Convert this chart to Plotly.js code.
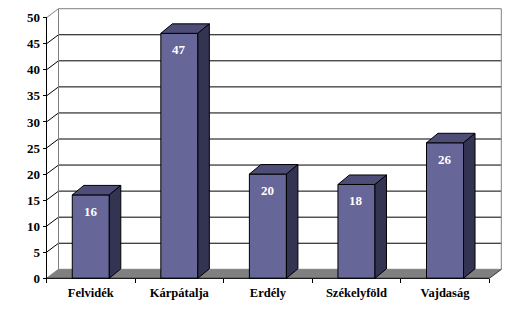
<!DOCTYPE html>
<html>
<head>
<meta charset="utf-8">
<script src="https://cdn.plot.ly/plotly-3.0.1.min.js"></script>
<style>html,body{margin:0;padding:0;background:#fff;}#chart{width:523px;height:311px;}</style>
</head>
<body>
<div id="chart"></div>
<script>
const categories = ['Felvidék', 'Kárpátalja', 'Erdély', 'Székelyföld', 'Vajdaság'];
const values = [16, 47, 20, 18, 26];
const yTickVals = [0, 5, 10, 15, 20, 25, 30, 35, 40, 45, 50];
const yTickText = ['0', '5', '10', '15', '20', '25', '30', '35', '40', '45', '50'];

// geometry (pixel scale used only to convert 3D depth offsets into axis units)
const W = 523, H = 311;
const ML = 44, MR = 19, MT = 6, MB = 30;
const xRange = [-0.5282, 4.666];
const yRange = [-0.518, 52.245];
const pxX = (W - ML - MR) / (xRange[1] - xRange[0]);
const pxY = (H - MT - MB) / (yRange[1] - yRange[0]);
const dxW = 12 / pxX, dyW = 9 / pxY;      // wall depth
const dxB = 11.5 / pxX, dyB = 9.5 / pxY;  // bar depth
const barW = 0.418;
const x0 = -0.5, x1 = categories.length - 0.5, yMax = 50;

const FRONT = '#666699', TOP = '#4d4d78', SIDE = '#333352', GRAY = '#808080';
const FONT = 'Liberation Serif';

function path(pts) {
  return 'M' + pts.map(p => p[0] + ',' + p[1]).join(' L') + ' Z';
}
function line(xa, ya, xb, yb, color, layer) {
  return {type: 'line', xref: 'x', yref: 'y', x0: xa, y0: ya, x1: xb, y1: yb,
          line: {color: color, width: 1}, layer: layer || 'below'};
}

const shapes = [];
// floor
shapes.push({type: 'path', xref: 'x', yref: 'y', layer: 'below',
  path: path([[x0, 0], [x1, 0], [x1 + dxW, dyW], [x0 + dxW, dyW]]),
  fillcolor: GRAY, line: {color: GRAY, width: 1}});
// back wall gridlines and side diagonals
yTickVals.forEach(v => {
  if (v === 0) return;
  const c = v === yMax ? GRAY : '#000000';
  shapes.push(line(x0, v, x0 + dxW, v + dyW, c));
  shapes.push(line(x0 + dxW, v + dyW, x1 + dxW, v + dyW, c));
});
// wall borders
shapes.push(line(x0 + dxW, dyW, x0 + dxW, yMax + dyW, GRAY));
shapes.push(line(x1 + dxW, dyW, x1 + dxW, yMax + dyW, GRAY));
shapes.push(line(x1, 0, x1 + dxW, dyW, '#404040'));

// bar top and side faces
values.forEach((v, i) => {
  const l = i - barW / 2, r = i + barW / 2;
  shapes.push({type: 'path', xref: 'x', yref: 'y', layer: 'above',
    path: path([[l, v], [r, v], [r + dxB, v + dyB], [l + dxB, v + dyB]]),
    fillcolor: TOP, line: {color: '#000000', width: 1}});
  shapes.push({type: 'path', xref: 'x', yref: 'y', layer: 'above',
    path: path([[r, 0], [r, v], [r + dxB, v + dyB], [r + dxB, dyB]]),
    fillcolor: SIDE, line: {color: '#000000', width: 1}});
});
// front axes lines
shapes.push(line(x0, 0, x0, yMax, '#000000', 'above'));
shapes.push(line(x0, 0, x1, 0, '#000000', 'above'));

const annotations = values.map((v, i) => ({
  x: i, y: v, xref: 'x', yref: 'y', yshift: -16.5, showarrow: false,
  text: '<b>' + String(v) + '</b>', yanchor: 'middle', xanchor: 'center',
  font: {family: FONT, size: 13, color: '#ffffff'}
}));

const trace = {
  type: 'bar', x: categories.map((c, i) => i), y: values, width: barW,
  marker: {color: FRONT, line: {color: '#000000', width: 1}},
  hoverinfo: 'skip'
};

const layout = {
  width: W, height: H,
  margin: {l: ML, r: MR, t: MT, b: MB, pad: 0},
  paper_bgcolor: '#ffffff', plot_bgcolor: '#ffffff',
  showlegend: false,
  font: {family: FONT},
  xaxis: {
    range: xRange, showgrid: false, zeroline: false, showline: false,
    tickmode: 'array', tickvals: categories.map((c, i) => i),
    ticktext: categories.map(c => '<b>' + c + '</b>'),
    ticks: '', anchor: 'free', position: 2.7 / (H - MT - MB), ticklabelstandoff: 5,
    tickfont: {family: FONT, size: 12.5, color: '#000000'},
    minor: {tickmode: 'array', tickvals: categories.map((c, i) => i - 0.5).concat([x1]),
            ticks: 'outside', ticklen: 4, tickcolor: '#000000', tickwidth: 1, showgrid: false}
  },
  yaxis: {
    range: yRange, showgrid: false, zeroline: false, showline: false,
    tickmode: 'array', tickvals: yTickVals, ticktext: yTickText.map(t => '<b>' + t + '</b>'),
    ticks: 'outside', ticklen: 4, tickcolor: '#000000', tickwidth: 1,
    anchor: 'free', position: 2.5 / (W - ML - MR),
    tickfont: {family: FONT, size: 13, color: '#000000'}
  },
  shapes: shapes,
  annotations: annotations
};

Plotly.newPlot('chart', [trace], layout, {staticPlot: true, displayModeBar: false});
</script>
</body>
</html>
